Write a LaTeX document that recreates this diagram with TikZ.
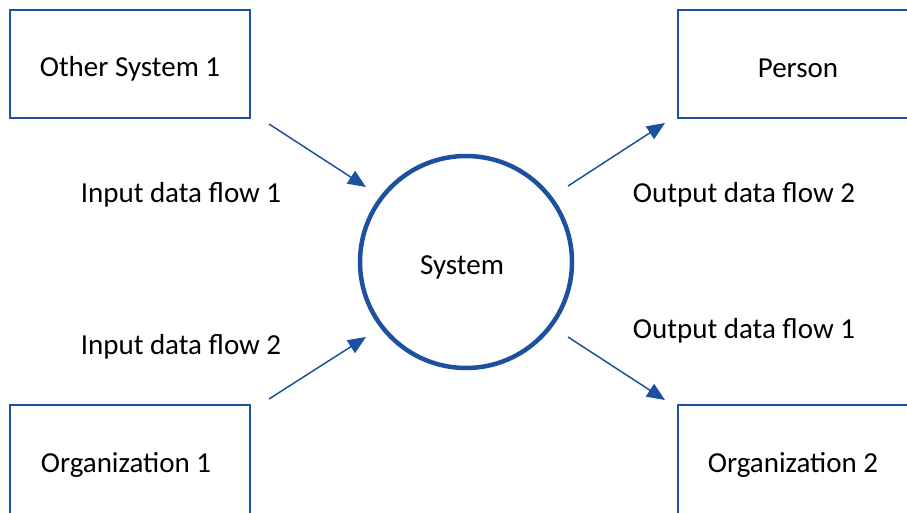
\documentclass[tikz,border=0pt]{standalone}
\usepackage{fontspec}
\setmainfont{Carlito}
\usetikzlibrary{arrows.meta}
\definecolor{dfdblue}{RGB}{30,80,160}
\tikzset{
  ext/.style={draw=dfdblue, line width=2.5pt, minimum width=240pt, minimum height=108pt, inner sep=0pt},
  extopen/.style={draw=dfdblue, line width=2.5pt, minimum width=237pt, minimum height=108pt, inner sep=0pt},
  proc/.style={circle, draw=dfdblue, line width=4.5pt, minimum size=212pt, inner sep=0pt},
  txt/.style={font=\fontsize{29}{35}\selectfont, inner sep=0pt},
  flow/.style={draw=dfdblue, line width=1.5pt, -{Triangle[length=18pt,width=15pt]}}
}
\begin{document}
\begin{tikzpicture}[x=1pt,y=-1pt]
\useasboundingbox (0,0) rectangle (907,512);
% external entities
\node[ext] (os1) at (130,64) {};
\node[txt] at (130,69) {Other System 1};
\node[extopen] (per) at (796.5,64) {};
\node[txt] at (798,68) {Person};
\node[ext, minimum height=115pt] (org1) at (130,462.5) {};
\node[txt] at (126,465) {Organization 1};
\node[extopen, minimum height=115pt] (org2) at (796.5,462.5) {};
\node[txt] at (793,465) {Organization 2};
% process
\node[proc] (sys) at (466,262) {};
\node[txt] at (462,267) {System};
% flow labels
\node[txt] (lin1) at (181,195) {Input data flow 1};
\node[txt] (lin2) at (181,347) {Input data flow 2};
\node[txt] (lout2) at (744,195) {Output data flow 2};
\node[txt] (lout1) at (744,331) {Output data flow 1};
% connector ends
\coordinate (in1s) at (269,124);
\coordinate (in1e) at (366,187);
\coordinate (in2s) at (269,399);
\coordinate (in2e) at (366,337);
\coordinate (out2s) at (568,186);
\coordinate (out2e) at (665,123);
\coordinate (out1s) at (568,337);
\coordinate (out1e) at (665,400);
\draw[flow] (in1s) -- (in1e);
\draw[flow] (in2s) -- (in2e);
\draw[flow] (out2s) -- (out2e);
\draw[flow] (out1s) -- (out1e);
\end{tikzpicture}
\end{document}
